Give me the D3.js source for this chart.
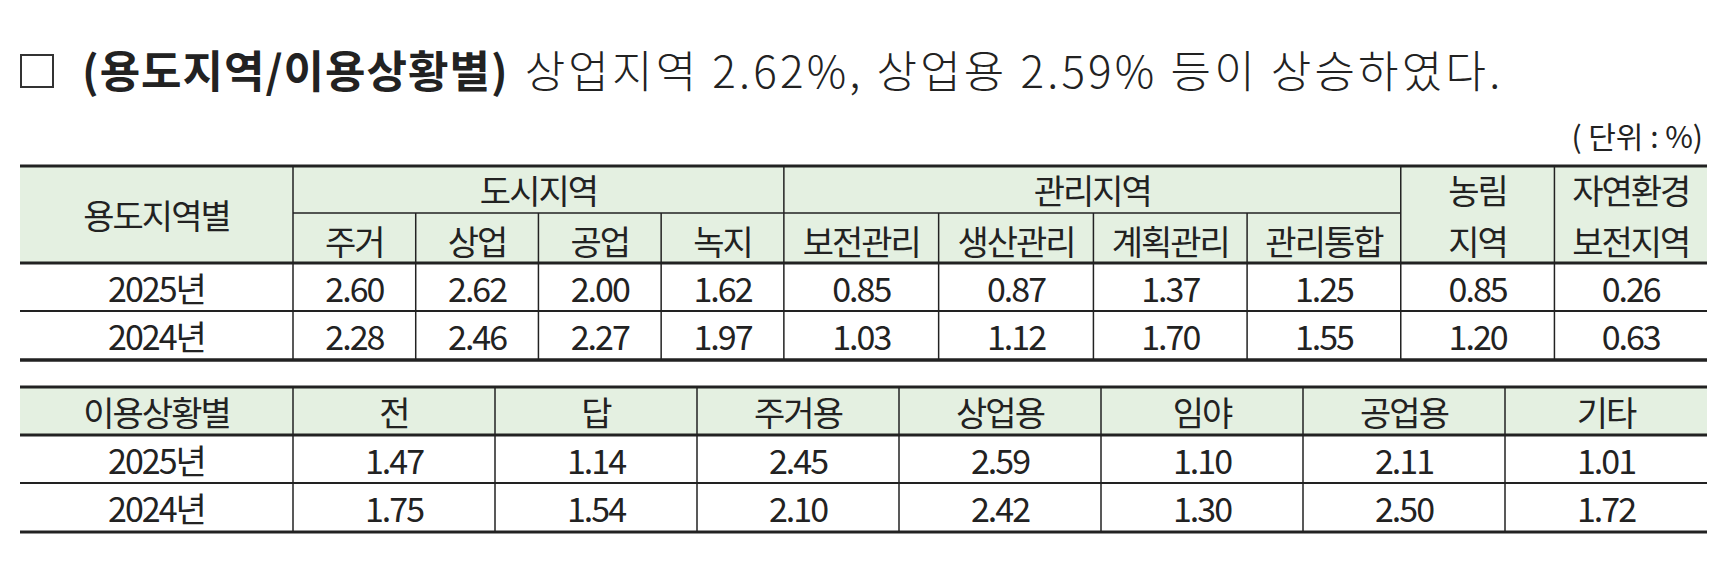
<!DOCTYPE html>
<html><head><meta charset="utf-8">
<script src="https://cdn.jsdelivr.net/npm/d3@7"></script>
<style>body{margin:0;background:#fff}svg{display:block}</style>
</head><body>
<div id="chart"></div>
<script>
// 용도지역별
const zoneGroups = [
    { name: '도시지역', span: 4 },
    { name: '관리지역', span: 4 }
];
const zoneCols = ['주거', '상업', '공업', '녹지', '보전관리', '생산관리', '계획관리', '관리통합'];
const zoneExtra = [['농림', '지역'], ['자연환경', '보전지역']];
const years = ['2025년', '2024년'];
const zone2025 = [2.60, 2.62, 2.00, 1.62, 0.85, 0.87, 1.37, 1.25, 0.85, 0.26];
const zone2024 = [2.28, 2.46, 2.27, 1.97, 1.03, 1.12, 1.70, 1.55, 1.20, 0.63];
// 이용상황별
const useCols = ['전', '답', '주거용', '상업용', '임야', '공업용', '기타'];
const use2025 = [1.47, 1.14, 2.45, 2.59, 1.10, 2.11, 1.01];
const use2024 = [1.75, 1.54, 2.10, 2.42, 1.30, 2.50, 1.72];

const W = 1725, H = 580;
const FONT = '"Noto Sans CJK KR", sans-serif';
const GREEN = '#e4f0e1';
const svg = d3.select('#chart').append('svg').attr('width', W).attr('height', H);

// 제목
svg.append('rect').attr('x', 21).attr('y', 55).attr('width', 32).attr('height', 32)
    .attr('fill', 'none').attr('stroke', '#333').attr('stroke-width', 2);
const title = svg.append('text').attr('x', 82).attr('y', 88)
    .attr('font-family', FONT).attr('font-size', 44).attr('fill', '#222');
title.append('tspan').attr('font-weight', 700).attr('letter-spacing', 1).text('(용도지역/이용상황별)');
title.append('tspan').attr('font-weight', 300).attr('dx', 16).attr('letter-spacing', 3.2)
    .text('상업지역 2.62%, 상업용 2.59% 등이 상승하였다.');

svg.append('text').attr('x', 1703).attr('y', 148).attr('text-anchor', 'end')
    .attr('font-family', FONT).attr('font-size', 30).attr('fill', '#222').text('( 단위 :  %)');

function txt(x, y, s) {
    svg.append('text').attr('x', x).attr('y', y).attr('text-anchor', 'middle')
        .attr('dominant-baseline', 'central').attr('font-family', FONT)
        .attr('font-size', 34).attr('fill', '#222').attr('letter-spacing', -2).text(s);
}
function hline(x1, x2, y, w) {
    svg.append('line').attr('x1', x1).attr('x2', x2).attr('y1', y).attr('y2', y)
        .attr('stroke', '#222').attr('stroke-width', w);
}
function vline(x, y1, y2) {
    svg.append('line').attr('x1', x).attr('x2', x).attr('y1', y1).attr('y2', y2)
        .attr('stroke', '#222').attr('stroke-width', 1.5);
}

// 표 1 (열 너비 비율)
const t1 = { left: 20, first: 293, right: 1707, top: 166, sub: 213, head: 263, rows: [263, 311, 360] };
const colWeights = [111, 111, 111, 111, 140, 140, 139, 139, 139, 138];
const cum = [0];
colWeights.forEach(w => cum.push(cum[cum.length - 1] + w));
const xs = d3.scaleLinear().domain([0, cum[cum.length - 1]]).range([t1.first, t1.right]);
const colL = i => xs(cum[i]);
const colC = i => (xs(cum[i]) + xs(cum[i + 1])) / 2;

svg.append('rect').attr('x', t1.left).attr('y', t1.top).attr('width', t1.right - t1.left)
    .attr('height', t1.head - t1.top).attr('fill', GREEN);
txt((t1.left + t1.first) / 2, (t1.top + t1.head) / 2, '용도지역별');
let ci = 0;
zoneGroups.forEach(g => {
    const a = colL(ci), b = colL(ci + g.span);
    txt((a + b) / 2, (t1.top + t1.sub) / 2, g.name);
    hline(a, b, t1.sub, 1.5);
    ci += g.span;
});
zoneCols.forEach((c, i) => txt(colC(i), (t1.sub + t1.head) / 2 + 2, c));
zoneExtra.forEach((c, j) => {
    const cx = colC(zoneCols.length + j);
    txt(cx, (t1.top + t1.sub) / 2, c[0]);
    txt(cx, (t1.sub + t1.head) / 2 + 2, c[1]);
});
[zone2025, zone2024].forEach((vals, r) => {
    const cy = (t1.rows[r] + t1.rows[r + 1]) / 2;
    txt((t1.left + t1.first) / 2, cy, years[r]);
    vals.forEach((v, i) => txt(colC(i), cy, v.toFixed(2)));
});
hline(t1.left, t1.right, t1.top, 3);
hline(t1.left, t1.right, t1.head, 3);
hline(t1.left, t1.right, t1.rows[1], 2);
hline(t1.left, t1.right, t1.rows[2], 3.5);
vline(t1.first, t1.top, t1.rows[2]);
d3.range(1, colWeights.length).forEach(i => {
    const top = (i === 4 || i === 8 || i === 9) ? t1.top : t1.sub;
    vline(colL(i), top, t1.rows[2]);
});

// 표 2
const t2 = { left: 20, first: 293, right: 1707, top: 387, rows: [435, 483, 532] };
const x2 = d3.scaleBand().domain(d3.range(useCols.length)).range([t2.first, t2.right]);
svg.append('rect').attr('x', t2.left).attr('y', t2.top).attr('width', t2.right - t2.left)
    .attr('height', t2.rows[0] - t2.top).attr('fill', GREEN);
txt((t2.left + t2.first) / 2, (t2.top + t2.rows[0]) / 2, '이용상황별');
useCols.forEach((c, i) => txt(x2(i) + x2.bandwidth() / 2, (t2.top + t2.rows[0]) / 2, c));
[use2025, use2024].forEach((vals, r) => {
    const cy = (t2.rows[r] + t2.rows[r + 1]) / 2;
    txt((t2.left + t2.first) / 2, cy, years[r]);
    vals.forEach((v, i) => txt(x2(i) + x2.bandwidth() / 2, cy, v.toFixed(2)));
});
hline(t2.left, t2.right, t2.top, 3);
hline(t2.left, t2.right, t2.rows[0], 3);
hline(t2.left, t2.right, t2.rows[1], 2);
hline(t2.left, t2.right, t2.rows[2], 3);
vline(t2.first, t2.top, t2.rows[2]);
d3.range(1, useCols.length).forEach(i => vline(x2(i), t2.top, t2.rows[2]));
</script>
</body></html>
